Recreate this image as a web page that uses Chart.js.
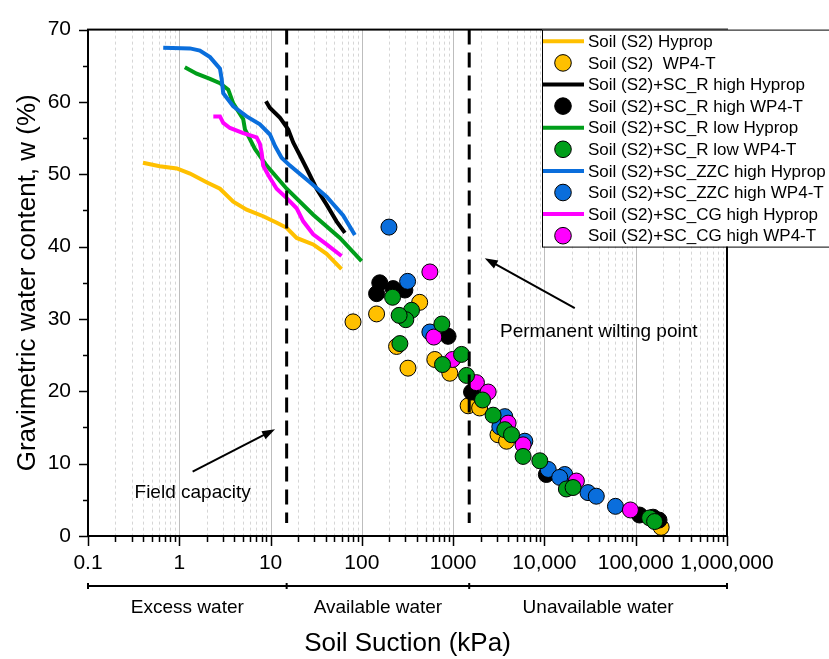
<!DOCTYPE html>
<html>
<head>
<meta charset="utf-8">
<script src="https://cdn.jsdelivr.net/npm/chart.js@4.4.1/dist/chart.umd.min.js"></script>
<style>
  html,body{margin:0;padding:0;background:#fff;}
  #wrap{width:829px;height:659px;position:relative;}
</style>
</head>
<body>
<div id="wrap"><canvas id="swcc" width="829" height="659"></canvas></div>
<script>
// --- Hyprop curves: suction (kPa) / gravimetric water content (%)
const s2HypX   = [0.40,0.61,0.94,1.31,1.99,2.79,3.90,5.47,8.30,11.7,15.0,19.3,29.3,41.1,59.9];
const s2HypW   = [51.6,51.1,50.8,50.1,48.9,48.0,46.2,45.1,44.2,43.3,42.6,41.2,40.3,39.0,36.9];
const rHiHypX  = [8.9,9.8,12.7,15.6,17.7,21.0,24.8,31.9,41.1,52.8,65.2];
const rHiHypW  = [60.1,59.2,57.8,56.2,54.4,52.6,50.8,48.0,45.8,43.5,41.9];
const rLoHypX  = [1.15,1.55,2.17,2.79,3.44,3.90,5.02,5.24,6.74,9.05,15.0,29.3,57.5,99.3];
const rLoHypW  = [64.8,63.9,63.2,62.6,61.7,59.8,57.6,56.2,53.5,51.2,48.0,44.4,41.2,38.0];
const zzcHypX  = [0.667,1.31,1.68,2.17,2.79,2.91,3.03,3.90,5.47,7.64,9.84,11.2,13.2,16.3,27.0,41.1,62.4,83.8];
const zzcHypW  = [67.5,67.4,67.1,66.2,64.6,63.2,61.2,59.4,58.0,56.9,55.5,53.9,52.3,51.2,48.9,46.9,44.3,41.6];
const cgHypX   = [2.36,2.79,3.03,3.59,5.02,7.03,7.64,7.98,8.30,9.42,11.65,15.0,19.3,22.8,29.3,41.1,59.9];
const cgHypW   = [58.0,58.0,57.1,56.4,55.7,55.1,54.2,53.0,51.2,49.9,48.0,46.7,45.3,43.5,41.7,40.3,38.7];

// --- WP4-T points
const s2WpX   = [80,145,430,240,320,630,920,1460,1950,3100,3850,190000];
const s2WpW   = [29.6,30.7,32.3,26.2,23.2,24.4,22.5,18.0,17.7,14.0,13.1,1.2];
const rHiWpX  = [157,145,220,296,880,1590,10500,110000,155000,180000];
const rHiWpW  = [35.0,33.5,34.2,34.0,27.6,19.9,8.5,2.9,2.6,2.2];
const rLoWpX  = [217,350,303,256,261,752,765,1236,1400,2100,2740,3680,4360,5840,8900,17400,20600,142000,161000];
const rLoWpW  = [33.0,31.2,29.9,30.5,26.6,29.3,23.7,25.1,22.2,18.8,16.7,14.7,14.0,11.0,10.4,6.5,6.7,2.5,2.0];
const zzcWpX  = [198,317,556,3680,3245,6100,11000,16700,14700,30000,37000,60000];
const zzcWpW  = [42.7,35.2,28.2,16.5,15.1,13.1,9.2,8.5,8.1,6.0,5.5,4.1];
const cgWpX   = [556,614,985,1800,2420,4000,5840,22400,87500];
const cgWpW   = [36.5,27.5,24.4,21.2,19.9,15.6,12.6,7.6,3.6];

// --- axes / zones
const xTickVals = [0.1,1,10,100,1000,10000,100000,1000000];
const xTickText = ['0.1','1','10','100','1000','10,000','100,000','1,000,000'];
const zoneBounds = [0.1,15,1500,1000000];
const zoneNames  = ['Excess water','Available water','Unavailable water'];
const fcSuction = 15, pwpSuction = 1500;

const FONT = "'Liberation Sans', Arial, sans-serif";
const C = {yel:'#FFC000', blk:'#000000', grn:'#009E1A', blu:'#0A6EDC', mag:'#FF00FF'};

const pts = (xs,ys) => xs.map((v,i)=>({x:v,y:ys[i]}));
const hyp = (label,xs,ys,col,ord) => ({label,data:pts(xs,ys),showLine:true,borderColor:col,backgroundColor:col,
  borderWidth:4,pointRadius:0,tension:0,order:ord});
const wp = (label,xs,ys,col,ord) => ({label,data:pts(xs,ys),showLine:false,backgroundColor:col,borderColor:'#000',
  borderWidth:1,pointRadius:8,pointHoverRadius:8,order:ord});

const datasets = [
  hyp('Soil (S2) Hyprop', s2HypX, s2HypW, C.yel, 10),
  wp ('Soil (S2)  WP4-T', s2WpX, s2WpW, C.yel, 5),
  hyp('Soil (S2)+SC_R high Hyprop', rHiHypX, rHiHypW, C.blk, 9),
  wp ('Soil (S2)+SC_R high WP4-T', rHiWpX, rHiWpW, C.blk, 4),
  hyp('Soil (S2)+SC_R low Hyprop', rLoHypX, rLoHypW, C.grn, 8),
  wp ('Soil (S2)+SC_R low WP4-T', rLoWpX, rLoWpW, C.grn, 1),
  hyp('Soil (S2)+SC_ZZC high Hyprop', zzcHypX, zzcHypW, C.blu, 7),
  wp ('Soil (S2)+SC_ZZC high WP4-T', zzcWpX, zzcWpW, C.blu, 3),
  hyp('Soil (S2)+SC_CG high Hyprop', cgHypX, cgHypW, C.mag, 6),
  wp ('Soil (S2)+SC_CG high WP4-T', cgWpX, cgWpW, C.mag, 2)
];

function arrow(ctx, x1, y1, x2, y2){
  const a = Math.atan2(y2-y1, x2-x1), L = 13, W = 4.5;
  ctx.beginPath(); ctx.moveTo(x1,y1); ctx.lineTo(x2-L*Math.cos(a)*0.7, y2-L*Math.sin(a)*0.7); ctx.stroke();
  ctx.beginPath();
  ctx.moveTo(x2,y2);
  ctx.lineTo(x2-L*Math.cos(a)+W*Math.sin(a), y2-L*Math.sin(a)-W*Math.cos(a));
  ctx.lineTo(x2-L*Math.cos(a)-W*Math.sin(a), y2-L*Math.sin(a)+W*Math.cos(a));
  ctx.closePath(); ctx.fill();
}

const decor = {
  id:'decor',
  beforeDatasetsDraw(chart){
    const {ctx, chartArea:a, scales:{x}} = chart;
    ctx.save();
    ctx.lineWidth = 1;
    for (let d = 0; d < 7; d++){
      for (let m = 1; m <= 9; m++){
        if (d === 0 && m === 1) continue;
        const px = Math.round(x.getPixelForValue(m*Math.pow(10,d-1))) + 0.5;
        if (m === 1){ ctx.strokeStyle = '#bdbdbd'; ctx.setLineDash([]); }
        else { ctx.strokeStyle = '#d6d6d6'; ctx.setLineDash([3,3]); }
        ctx.beginPath(); ctx.moveTo(px,a.top); ctx.lineTo(px,a.bottom); ctx.stroke();
      }
    }
    ctx.restore();
  },
  afterDatasetsDraw(chart){
    const {ctx, chartArea:a, scales:{x,y}} = chart;
    ctx.save();
    // field capacity / wilting point markers
    ctx.strokeStyle = '#000'; ctx.lineWidth = 3; ctx.setLineDash([15,8]);
    [fcSuction, pwpSuction].forEach(v=>{
      const px = x.getPixelForValue(v);
      ctx.beginPath(); ctx.moveTo(px,y.getPixelForValue(70)); ctx.lineTo(px,y.getPixelForValue(1.8)); ctx.stroke();
    });
    ctx.setLineDash([]);
    // frame
    ctx.lineWidth = 2;
    ctx.strokeRect(a.left, a.top, a.right-a.left, a.bottom-a.top);
    // ticks
    ctx.lineWidth = 1.5;
    ctx.beginPath();
    for (let d = 0; d <= 7; d++){
      for (let m = 1; m <= (d === 7 ? 1 : 9); m++){
        const px = Math.round(x.getPixelForValue(m*Math.pow(10,d-1))) + 0.5;
        ctx.moveTo(px, a.bottom); ctx.lineTo(px, a.bottom + (m === 1 ? 10 : 6));
      }
    }
    for (let v = 0; v <= 70; v += 5){
      const py = Math.round(y.getPixelForValue(v)) + 0.5;
      ctx.moveTo(a.left, py); ctx.lineTo(a.left - (v % 10 === 0 ? 9 : 5), py);
    }
    ctx.stroke();
    // annotations
    ctx.lineWidth = 2; ctx.fillStyle = '#000';
    arrow(ctx, x.getPixelForValue(1.4), y.getPixelForValue(8.9), x.getPixelForValue(11.2), y.getPixelForValue(14.75));
    arrow(ctx, x.getPixelForValue(21500), y.getPixelForValue(31.5), x.getPixelForValue(2220), y.getPixelForValue(38.4));
    ctx.font = '19px ' + FONT; ctx.textAlign = 'center'; ctx.textBaseline = 'middle';
    ctx.fillText('Field capacity', x.getPixelForValue(1.4), y.getPixelForValue(6.0));
    ctx.fillText('Permanent wilting point', x.getPixelForValue(39400), y.getPixelForValue(28.2));
    // zone bracket below the axis
    const by = 586;
    ctx.lineWidth = 2;
    ctx.beginPath();
    ctx.moveTo(x.getPixelForValue(zoneBounds[0]), by); ctx.lineTo(x.getPixelForValue(zoneBounds[3]), by);
    zoneBounds.forEach(v=>{ const px = x.getPixelForValue(v); ctx.moveTo(px, by-3); ctx.lineTo(px, by+3); });
    ctx.stroke();
    zoneNames.forEach((n,i)=>{
      const mid = (x.getPixelForValue(zoneBounds[i]) + x.getPixelForValue(zoneBounds[i+1]))/2;
      ctx.fillText(n, mid, 608);
    });
    ctx.restore();
  },
  afterDraw(chart){
    const {ctx, chartArea:a} = chart;
    const lx = a.right - 185, ly = a.top, rowH = 21.6;
    ctx.save();
    ctx.fillStyle = '#fff';
    ctx.fillRect(lx, ly, 300, 217);
    ctx.strokeStyle = '#000'; ctx.lineWidth = 1;
    ctx.strokeRect(lx+0.5, ly+0.5, 300, 217);
    ctx.font = '17px ' + FONT; ctx.textAlign = 'left'; ctx.textBaseline = 'middle';
    chart.data.datasets.forEach((ds,i)=>{
      const cy = ly + 11.7 + i*rowH;
      if (ds.showLine){
        ctx.strokeStyle = ds.borderColor; ctx.lineWidth = 4;
        ctx.beginPath(); ctx.moveTo(lx+1, cy); ctx.lineTo(lx+42, cy); ctx.stroke();
      } else {
        ctx.fillStyle = ds.backgroundColor; ctx.strokeStyle = '#000'; ctx.lineWidth = 1;
        ctx.beginPath(); ctx.arc(lx+21, cy, 8.3, 0, Math.PI*2); ctx.fill(); ctx.stroke();
      }
      ctx.fillStyle = '#000';
      ctx.fillText(ds.label, lx+46, cy+1);
    });
    ctx.restore();
  }
};

new Chart(document.getElementById('swcc'), {
  type:'scatter',
  data:{datasets},
  options:{
    responsive:false, animation:false,
    layout:{padding:{top:22,right:102,left:0,bottom:0}},
    plugins:{legend:{display:false}, tooltip:{enabled:false}},
    scales:{
      x:{
        type:'logarithmic', min:0.1, max:1000000,
        grid:{display:false, drawTicks:false}, border:{display:false},
        afterBuildTicks:s=>{ s.ticks = xTickVals.map(v=>({value:v})); },
        afterFit:s=>{ s.height = 123; },
        ticks:{autoSkip:false, maxRotation:0, minRotation:0, padding:15, color:'#000',
          font:{family:FONT,size:21}, callback:(v,i)=>xTickText[i]},
        title:{display:true, text:'Soil Suction (kPa)', color:'#000', font:{family:FONT,size:26}, padding:{top:0,bottom:0}}
      },
      y:{
        type:'linear', min:0, max:70,
        grid:{display:false, drawTicks:false}, border:{display:false},
        afterFit:s=>{ s.width = 88; },
        ticks:{stepSize:10, padding:17, color:'#000', font:{family:FONT,size:21}},
        title:{display:true, text:'Gravimetric water content, w (%)', color:'#000', font:{family:FONT,size:26}, padding:{top:12,bottom:0}}
      }
    }
  },
  plugins:[decor]
});
</script>
</body>
</html>
